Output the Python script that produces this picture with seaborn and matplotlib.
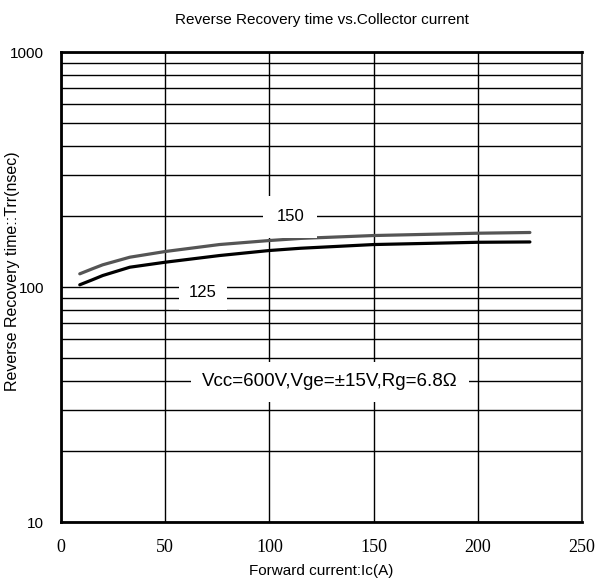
import pandas as pd
import seaborn as sns
import matplotlib.pyplot as plt
from matplotlib.ticker import FixedLocator, FixedFormatter, NullFormatter

# Curve data
current = [9, 15, 20, 33, 50, 76, 100, 115, 150, 200, 225]
trr_150 = [113.8, 119.5, 124.3, 133.9, 141.6, 151.6, 157.7, 161.0, 165.6, 169.4, 170.6]
trr_125 = [102.2, 107.3, 111.9, 121.4, 127.5, 136.1, 143.0, 146.2, 151.6, 155.0, 155.5]

x_ticks = [0, 50, 100, 150, 200, 250]
y_ticks = [10, 100, 1000]
y_tick_labels = ['10', '100', '1000']

data = pd.concat([
    pd.DataFrame({'Ic': current, 'Trr': trr_150, 'Tj': '150'}),
    pd.DataFrame({'Ic': current, 'Trr': trr_125, 'Tj': '125'}),
])

sns.set_style('white')
plt.rcParams['font.family'] = ['Liberation Sans', 'DejaVu Sans']
plt.rcParams['text.color'] = 'black'
plt.rcParams['axes.labelcolor'] = 'black'
plt.rcParams['xtick.color'] = 'black'
plt.rcParams['ytick.color'] = 'black'

fig = plt.figure(figsize=(6, 5.83), dpi=100)
ax = fig.add_axes([0.1017, 0.1046, 0.8683, 0.8062])

sns.lineplot(data=data, x='Ic', y='Trr', hue='Tj', ax=ax,
             palette={'150': '#555555', '125': '#000000'},
             linewidth=2.3, legend=False, zorder=3)

ax.set_yscale('log')
ax.set_xlim(0, 250)
ax.set_ylim(10, 1000)

ax.yaxis.set_major_locator(FixedLocator(y_ticks))
ax.yaxis.set_major_formatter(FixedFormatter(y_tick_labels))
ax.yaxis.set_minor_formatter(NullFormatter())
ax.set_xticks(x_ticks)
ax.set_xticklabels([str(t) for t in x_ticks], family='Liberation Serif', fontsize=13)
ax.tick_params(axis='both', which='both', length=0)
ax.tick_params(axis='y', labelsize=11, pad=12)
ax.tick_params(axis='x', pad=12)

ax.grid(True, which='both', axis='both', color='black', linewidth=1)
ax.set_axisbelow(True)
for side in ['left', 'bottom', 'top']:
    ax.spines[side].set_linewidth(2)
    ax.spines[side].set_color('black')
ax.spines['right'].set_linewidth(1.5)
ax.spines['right'].set_color('#333333')

ax.text(110, 199, '150', ha='center', va='center', fontsize=12,
        bbox=dict(facecolor='white', edgecolor='none', boxstyle='square,pad=0.8'), zorder=4)
ax.text(68, 95, '125', ha='center', va='center', fontsize=12,
        bbox=dict(facecolor='white', edgecolor='none', boxstyle='square,pad=0.6'), zorder=4)
ax.text(129, 39.5, 'Vcc=600V,Vge=\u00b115V,Rg=6.8\u03a9', ha='center', va='center',
        fontsize=13.5, bbox=dict(facecolor='white', edgecolor='none', boxstyle='square,pad=0.6'), zorder=4)

ax.set_title('Reverse Recovery time vs.Collector current', fontsize=11, pad=20)
ax.set_xlabel('Forward current:Ic(A)', fontsize=11, labelpad=6)
ax.set_ylabel('Reverse Recovery time::Trr(nsec)', fontsize=11.5)
ax.yaxis.set_label_coords(-0.079, 0.534)

fig.savefig('out.png', dpi=100)
